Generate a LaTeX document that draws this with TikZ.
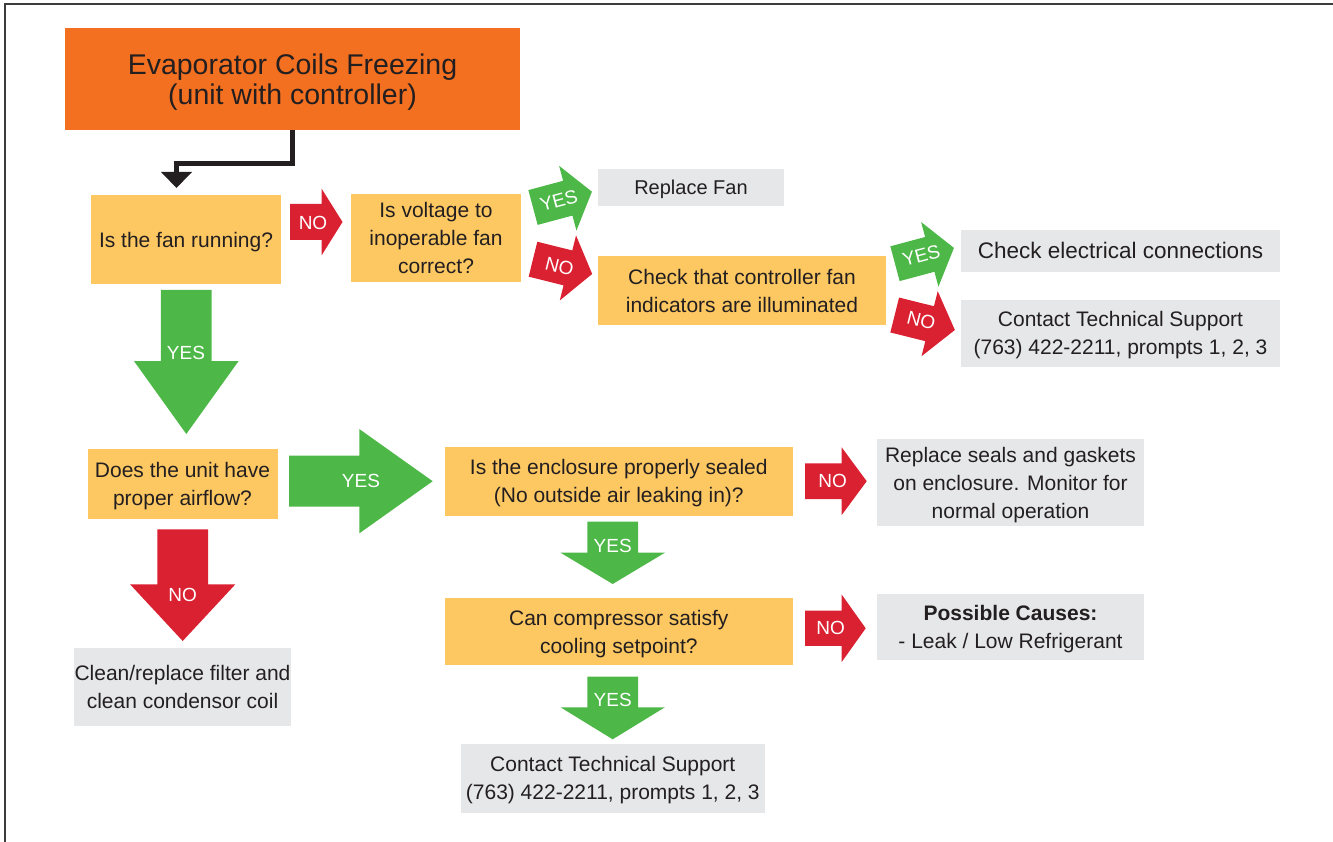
\documentclass[tikz,border=0pt]{standalone}
\usepackage{fontspec}
\setmainfont{Liberation Sans}
\usetikzlibrary{arrows.meta,calc}
\definecolor{cOrange}{HTML}{F37021}
\definecolor{cYellow}{HTML}{FDC862}
\definecolor{cGray}{HTML}{E6E7E8}
\definecolor{cGreen}{HTML}{4DB848}
\definecolor{cRed}{HTML}{DA2131}
\definecolor{cText}{HTML}{231F20}
\definecolor{cFrame}{HTML}{3C3C3C}
% #1 back-centre, #2 angle, #3 body length, #4 body width, #5 head length, #6 head width, #7 colour
\newcommand\fatarr[7]{%
  \begin{scope}[shift={#1},rotate=#2]
    \fill[#7] (0,-#4/2) -- (#3,-#4/2) -- (#3,-#6/2) -- ({#3+#5},0) -- (#3,#6/2) -- (#3,#4/2) -- (0,#4/2) -- cycle;
  \end{scope}}
\tikzset{
  box/.style={draw=none, align=center, text=cText, inner sep=0pt, text depth=0pt, font=\fontsize{21}{28}\selectfont},
  qbox/.style={box, fill=cYellow},
  abox/.style={box, fill=cGray},
  lbl/.style={text=white, inner sep=0pt, font=\fontsize{19}{19}\selectfont},
  blk/.style={line width=5pt, cText, -{Triangle[width=30pt,length=16pt]}}
}
\begin{document}
\begin{tikzpicture}[x=1pt,y=-1pt]
\useasboundingbox (0,0) rectangle (1333,842);
\draw[line width=1.5pt, cFrame] (1333,4) -- (5,4) -- (5,842);

% boxes
\node[box, fill=cOrange, minimum width=455pt, minimum height=102pt, font=\fontsize{28.5}{29.5}\selectfont] (title) at (292.5,79) {Evaporator Coils Freezing\\(unit with controller)};
\node[qbox, minimum width=190pt, minimum height=89pt] (fan) at (186,240) {Is the fan running?};
\node[qbox, minimum width=170pt, minimum height=88pt, font=\fontsize{21}{27.7}\selectfont] (volt) at (436,238) {Is voltage to\\inoperable fan\\correct?};
\node[abox, minimum width=186pt, minimum height=37pt, font=\fontsize{20}{24}\selectfont] (repl) at (691,187.5) {Replace Fan};
\node[qbox, minimum width=288pt, minimum height=69pt] (check) at (742,290.5) {Check that controller fan\\indicators are illuminated};
\node[abox, minimum width=319pt, minimum height=42pt, font=\fontsize{22.5}{27}\selectfont] (elec) at (1120.5,250.8) {Check electrical connections};
\node[abox, minimum width=319pt, minimum height=67pt] (sup1) at (1120.5,333.3) {Contact Technical Support\\(763) 422-2211, prompts 1, 2, 3};
\node[qbox, minimum width=190pt, minimum height=70pt] (air) at (182.5,484.3) {Does the unit have\\proper airflow?};
\node[qbox, minimum width=348pt, minimum height=69pt] (encl) at (618.8,481.3) {Is the enclosure properly sealed\\(No outside air leaking in)?};
\node[abox, minimum width=267pt, minimum height=87pt] (seal) at (1010.5,482.5) {Replace seals and gaskets\\on enclosure. Monitor for\\normal operation};
\node[qbox, minimum width=348pt, minimum height=67pt] (comp) at (618.8,631.7) {Can compressor satisfy\\cooling setpoint?};
\node[abox, minimum width=267pt, minimum height=66pt] (cause) at (1010.5,627) {\textbf{Possible Causes:}\\- Leak / Low Refrigerant};
\node[abox, minimum width=217pt, minimum height=78pt] (clean) at (182.5,686.8) {Clean/replace filter and\\clean condensor coil};
\node[abox, minimum width=304pt, minimum height=69pt] (sup2) at (612.8,778.3) {Contact Technical Support\\(763) 422-2211, prompts 1, 2, 3};

% black connector
\coordinate (fantip) at (176.5,188);
\draw[blk] (title.south) -- ++(0,33.5) -| (fantip);

% fat arrows
\fatarr{(290,222)}{0}{31.5}{36}{21}{67}{cRed}
\fatarr{(533,207.5)}{15}{36}{36}{25}{67}{cGreen}
\fatarr{(533,259.2)}{-14}{36}{36}{25}{67}{cRed}
\fatarr{(895,263.7)}{15}{36}{36}{25}{67}{cGreen}
\fatarr{(894.7,315)}{-14}{36}{36}{26}{67}{cRed}
\fatarr{(186.3,290)}{-90}{71}{50.7}{73}{104.7}{cGreen}
\fatarr{(289,481.2)}{0}{70.3}{51}{73.4}{104.3}{cGreen}
\fatarr{(182.7,529.3)}{-90}{55}{50.7}{56.7}{105.3}{cRed}
\fatarr{(612.7,521.7)}{-90}{31}{50.7}{31.3}{104.3}{cGreen}
\fatarr{(612.7,676.7)}{-90}{30.6}{50.7}{32}{104.3}{cGreen}
\fatarr{(805,481.2)}{0}{36.7}{35.7}{25}{67.7}{cRed}
\fatarr{(805,628.3)}{0}{36.7}{35.3}{24}{67.4}{cRed}

% arrow labels
\node[lbl] (n1) at (313,222.7) {NO};
\node[lbl, rotate=15] (y2) at (558.7,200.7) {YES};
\node[lbl, rotate=-14] (n3) at (559.5,266.7) {NO};
\node[lbl, rotate=15] (y4) at (921.3,255.7) {YES};
\node[lbl, rotate=-14] (n5) at (921.3,320.7) {NO};
\node[lbl] (y6) at (186,352.7) {YES};
\node[lbl] (y7) at (361,481) {YES};
\node[lbl] (n8) at (182.7,595) {NO};
\node[lbl] (y9) at (612.7,546) {YES};
\node[lbl] (y10) at (612.7,700) {YES};
\node[lbl] (n11) at (832.7,481) {NO};
\node[lbl] (n12) at (830.7,628.3) {NO};
\end{tikzpicture}
\end{document}
